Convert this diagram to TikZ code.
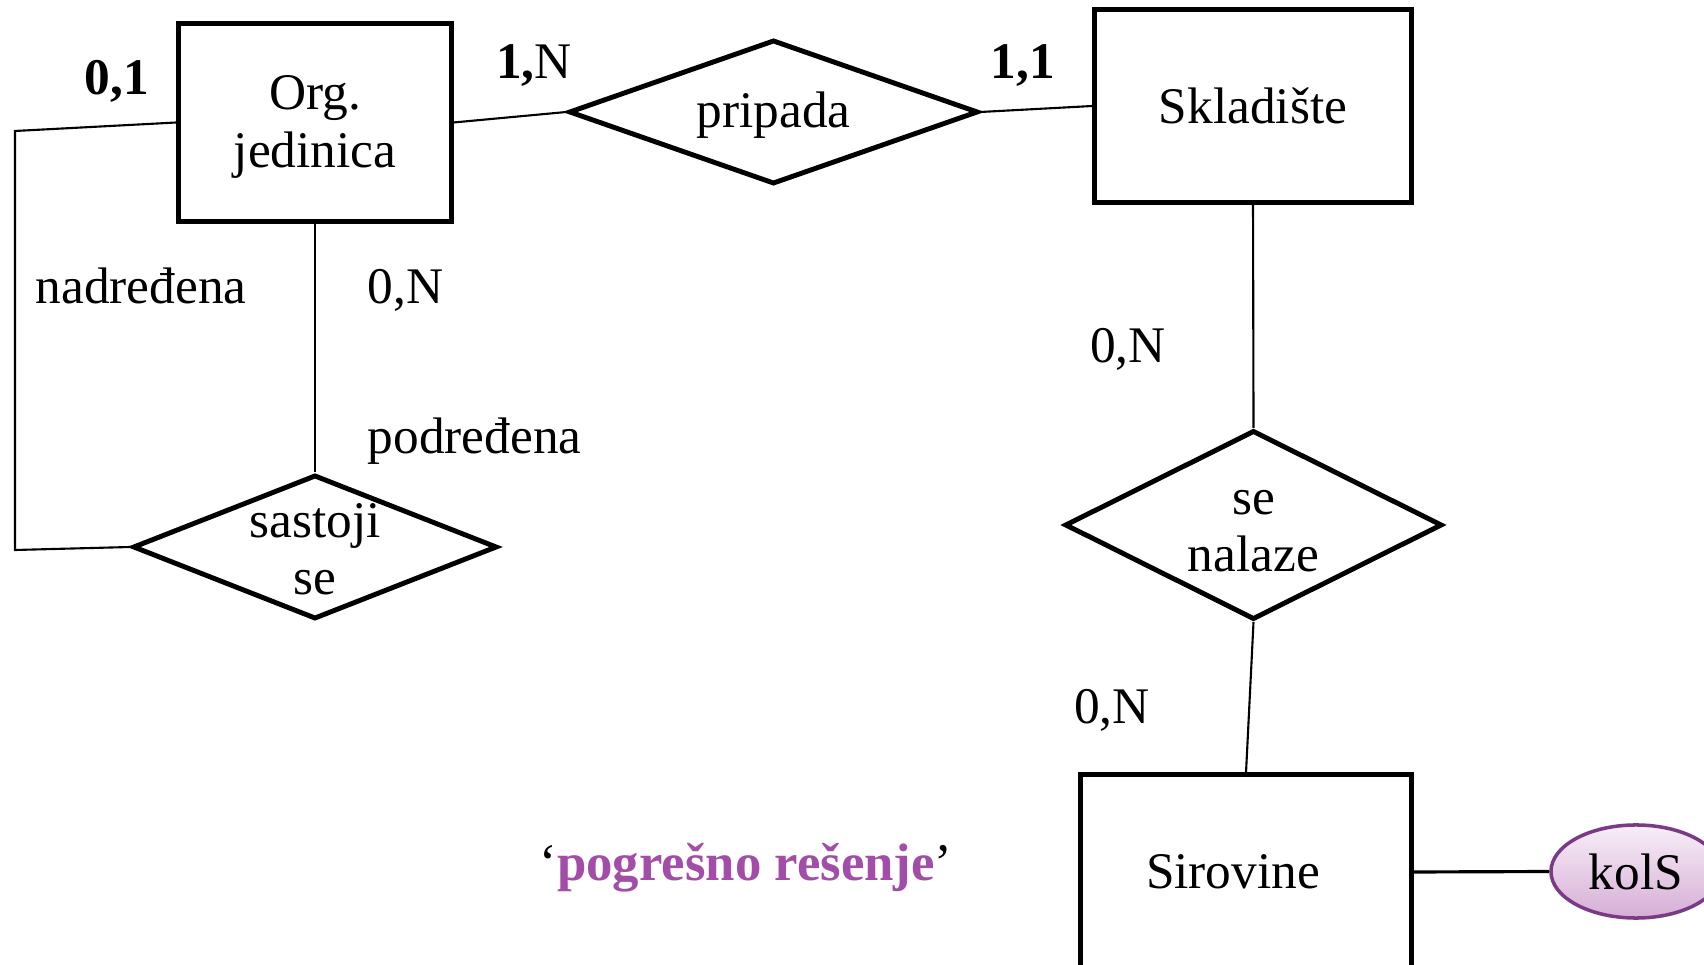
\documentclass[tikz,border=0pt]{standalone}
\usepackage{fontspec}
\setmainfont{Liberation Serif}
\usetikzlibrary{shapes.geometric}
\definecolor{purp}{HTML}{A24DA8}
\definecolor{ellb}{HTML}{7B3A85}
\definecolor{elltop}{HTML}{F7EEF7}
\definecolor{ellbot}{HTML}{D6AED6}
\begin{document}
\begin{tikzpicture}[x=0.01cm,y=-0.01cm,
  every node/.style={font=\fontsize{14.6}{16.3}\selectfont},
  entity/.style={draw, line width=1.4pt, fill=white, rectangle, inner sep=0pt},
  rel/.style={draw, line width=1.4pt, fill=white, diamond, inner sep=0pt},
  txt/.style={align=center, inner sep=0pt},
  conn/.style={line width=0.6pt},
  card/.style={anchor=base, inner sep=0pt},
  lbl/.style={anchor=base west, inner sep=0pt}]
\useasboundingbox (0,0) rectangle (1704,965);
\fill[white] (0,0) rectangle (1704,965);

% entities
\node[entity, minimum width=2.72cm, minimum height=1.97cm] (org) at (315,122.5) {};
\node[entity, minimum width=3.16cm, minimum height=1.92cm] (skl) at (1253,106) {};
\node[entity, minimum width=3.30cm, minimum height=1.94cm] (sir) at (1246,872) {};
\node[txt] (orgT) at (315,127) {Org.\\jedinica};
\node[txt] (sklT) at (1253,106) {Skladište};
\node[txt] (sirT) at (1233,872) {Sirovine};

% relationships
\node[rel, minimum width=4.09cm, minimum height=1.44cm] (prip) at (773.5,112) {};
\node[rel, minimum width=3.64cm, minimum height=1.44cm] (sas) at (315,547) {};
\node[rel, minimum width=3.77cm, minimum height=1.89cm] (nal) at (1253.5,525) {};
\node[txt] (pripT) at (773.5,115) {pripada};
\node[txt] (sasT) at (315,549) {sastoji\\se};
\node[txt] (nalT) at (1253.5,531) {se\\nalaze};

% attribute
\node[ellipse, draw=ellb, line width=1pt, top color=elltop, bottom color=ellbot,
      minimum width=1.70cm, minimum height=0.93cm, inner sep=0pt] (kol) at (1636,871.5) {kolS};

% connectors
\coordinate (lt) at (15,131);
\coordinate (lb) at (15,550);
\draw[conn] (org.east) -- (prip.west);
\draw[conn] (prip.east) -- (skl.west);
\draw[conn] (org.west) -- (lt) -- (lb) -- (sas.west);
\draw[conn] (org.south) -- (sas.north);
\draw[conn] (skl.south) -- (nal.north);
\draw[conn] (nal.south) -- (sir.north);
\draw[line width=0.9pt] (sir.east) -- (kol.west);

% cardinalities and roles
\node[card] (c01) at (117,95) {\textbf{0,1}};
\node[card] (c1N) at (534,79) {\textbf{1,}N};
\node[card] (c11) at (1023,79) {\textbf{1,1}};
\node[lbl] (nad) at (35,304) {nadređena};
\node[lbl] (c0Na) at (367,304) {0,N};
\node[lbl] (pod) at (367,454) {podređena};
\node[card] (c0Nb) at (1128,363) {0,N};
\node[card] (c0Nc) at (1112,724) {0,N};

% note
\node[card, font=\fontsize{15}{17}\selectfont] (note) at (746,880) {‘\textcolor{purp}{\textbf{pogrešno rešenje}}’};
\end{tikzpicture}
\end{document}
